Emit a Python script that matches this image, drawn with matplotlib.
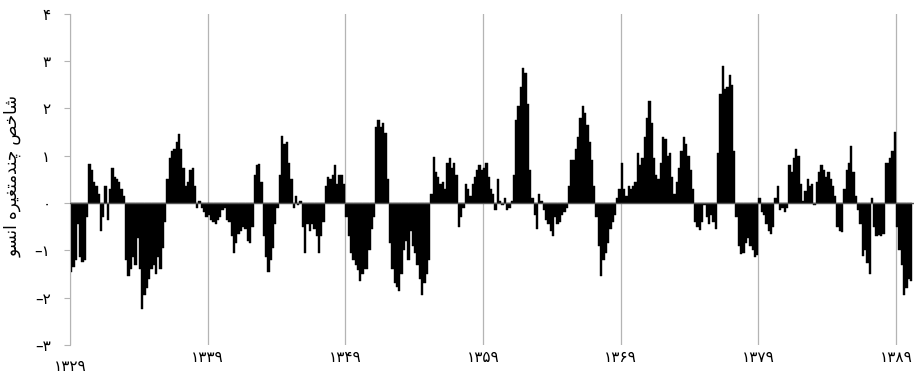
import matplotlib
matplotlib.use('Agg')
import matplotlib.pyplot as plt
import numpy as np

plt.rcParams['font.family'] = ['DejaVu Sans']

# bimonthly index values, one list per decade
mei_1329 = [-1.45, -1.35, -1.2, -0.45, -1.15, -1.25, -1.2, -0.3, 0.82, 0.7,
            0.45, 0.35, 0.2, -0.6, -0.3, 0.35, -0.35, 0.3, 0.75, 0.55,
            0.5, 0.45, 0.3, 0.15, -1.2, -1.55, -1.4, -1.15, -1.3, -0.75,
            -1.4, -2.25, -1.95, -1.8, -1.6, -1.4, -1.3, -1.5, -1.15, -1.4,
            -0.95, -0.4, 0.5, 0.95, 1.1, 1.15, 1.3, 1.45, 1.15, 0.75,
            0.35, 0.45, 0.7, 0.75, 0.35, -0.1, 0.05, -0.1, -0.2, -0.3]
mei_1339 = [-0.25, -0.35, -0.4, -0.45, -0.35, -0.3, -0.15, -0.1, -0.35, -0.4,
            -0.7, -1.05, -0.85, -0.65, -0.6, -0.5, -0.55, -0.8, -0.85, -0.5,
            0.6, 0.8, 0.82, 0.45, -0.7, -1.15, -1.45, -1.2, -0.95, -0.45,
            -0.1, 0.6, 1.42, 1.25, 1.3, 0.85, 0.5, -0.1, 0.15, -0.05,
            0.05, -0.5, -1.05, -0.45, -0.6, -0.45, -0.55, -0.7, -1.05, -0.7,
            -0.4, 0.35, 0.55, 0.5, 0.6, 0.8, 0.4, 0.6, 0.6, 0.4]
mei_1349 = [-0.3, -0.7, -1.05, -1.2, -1.3, -1.42, -1.65, -1.5, -1.4, -1.4,
            -1.0, -0.55, -0.3, 1.6, 1.75, 1.6, 1.7, 1.47, 0.5, -0.85,
            -1.4, -1.7, -1.77, -1.85, -1.5, -1.0, -0.8, -1.2, -0.6, -0.9,
            -1.05, -1.3, -1.6, -1.95, -1.7, -1.5, -1.2, 0.2, 0.98, 0.65,
            0.55, 0.4, 0.45, 0.3, 0.84, 0.95, 0.75, 0.85, 0.6, -0.5,
            -0.3, -0.1, 0.4, 0.3, 0.15, 0.4, 0.55, 0.7, 0.8, 0.7]
mei_1359 = [0.75, 0.85, 0.55, 0.3, 0.2, -0.15, 0.5, 0.05, -0.05, 0.1,
            -0.15, -0.1, 0.05, 0.6, 1.75, 2.05, 2.45, 2.85, 2.75, 2.1,
            0.7, 0.1, -0.25, -0.55, 0.2, 0.05, -0.15, -0.35, -0.45, -0.6,
            -0.7, -0.3, -0.45, -0.4, -0.25, -0.2, -0.1, 0.35, 0.9, 0.9,
            1.15, 1.4, 1.8, 2.05, 1.9, 1.65, 1.3, 0.9, 0.35, -0.3,
            -0.9, -1.55, -1.2, -1.05, -0.85, -0.55, -0.4, -0.25, 0.1, 0.3]
mei_1369 = [0.85, 0.3, 0.15, 0.35, 0.3, 0.35, 0.45, 1.05, 0.8, 0.95,
            1.4, 1.8, 2.15, 1.7, 0.95, 0.6, 0.5, 0.85, 1.4, 1.35,
            1.0, 1.05, 0.55, 0.2, 0.45, 0.75, 1.1, 1.4, 1.25, 1.0,
            0.7, 0.3, -0.4, -0.5, -0.58, -0.4, -0.05, -0.3, -0.45, -0.25,
            -0.4, -0.55, 1.05, 2.3, 2.9, 2.4, 2.45, 2.7, 2.5, 1.1,
            -0.3, -0.9, -1.07, -1.05, -0.85, -0.75, -0.9, -1.0, -1.15, -1.1]
mei_1379 = [0.1, -0.2, -0.25, -0.45, -0.6, -0.65, -0.5, 0.1, 0.35, -0.15,
            -0.1, -0.2, -0.1, 0.8, 0.65, 0.95, 1.15, 1.0, 0.4, 0.05,
            0.25, 0.5, 0.35, 0.4, -0.05, 0.45, 0.65, 0.8, 0.7, 0.55,
            0.65, 0.5, 0.35, 0.15, -0.5, -0.6, -0.62, 0.3, 0.7, 0.85,
            1.2, 0.65, 0.15, -0.15, -0.45, -1.13, -1.0, -1.27, -1.5, 0.1,
            -0.5, -0.7, -0.68, -0.7, -0.65, 0.85, 0.85, 0.95, 1.1, 1.5]
mei_1389 = [-0.5, -1.0, -1.3, -1.95, -1.8, -1.6, -1.65]

start_year = 1329
xticks = [1329, 1339, 1349, 1359, 1369, 1379, 1389]
xlabels = ['۱۳۲۹', '۱۳۳۹', '۱۳۴۹', '۱۳۵۹', '۱۳۶۹', '۱۳۷۹', '۱۳۸۹']
yticks = [-3, -2, -1, 0, 1, 2, 3, 4]
ylabels = ['–۳', '–۲', '–۱', '۰', '۱', '۲', '۳', '۴']
# "شاخص چندمتغیره انسو" in shaped presentation forms, visual order
ylabel = ('\ufeee\ufeb4\ufee7\ufe8d \ufee9\ufeae\ufbff\ufed0\ufe98\ufee3'
          '\ufeaa\ufee8\ufb7c \ufeba\ufea7\ufe8e\ufeb7')

mei = np.array(mei_1329 + mei_1339 + mei_1349 + mei_1359 +
               mei_1369 + mei_1379 + mei_1389)
years = start_year + np.arange(len(mei)) / 6.0

fig = plt.figure(figsize=(9.17, 3.77), dpi=100)
ax = fig.add_axes([0.0763, 0.0851, 0.9204, 0.8783])

ax.bar(years, mei, width=1/6, align='edge', color='black',
       edgecolor='black', linewidth=0.3, zorder=2)
ax.axhline(0, color='#555555', lw=1, zorder=3)

ax.set_xlim(1329, 1390.3)
ax.set_ylim(-3, 4)
ax.set_xticks(xticks)
ax.set_xticklabels(xlabels, fontsize=11)
ax.set_yticks(yticks)
ax.set_yticklabels(ylabels, fontsize=11)
ax.grid(axis='x', color='#b4b4b4', lw=0.9, zorder=1)
ax.tick_params(axis='x', length=0, pad=4)
ax.tick_params(axis='y', length=4, color='#b4b4b4', pad=10)
ax.xaxis.get_major_ticks()[0].set_pad(10)

for s in ['top', 'right', 'bottom']:
    ax.spines[s].set_visible(False)
ax.spines['left'].set_color('#b4b4b4')

ax.set_ylabel(ylabel, fontsize=12, va='center')
ax.yaxis.set_label_coords(-0.068, 0.51)

fig.savefig('out.png', dpi=100)
